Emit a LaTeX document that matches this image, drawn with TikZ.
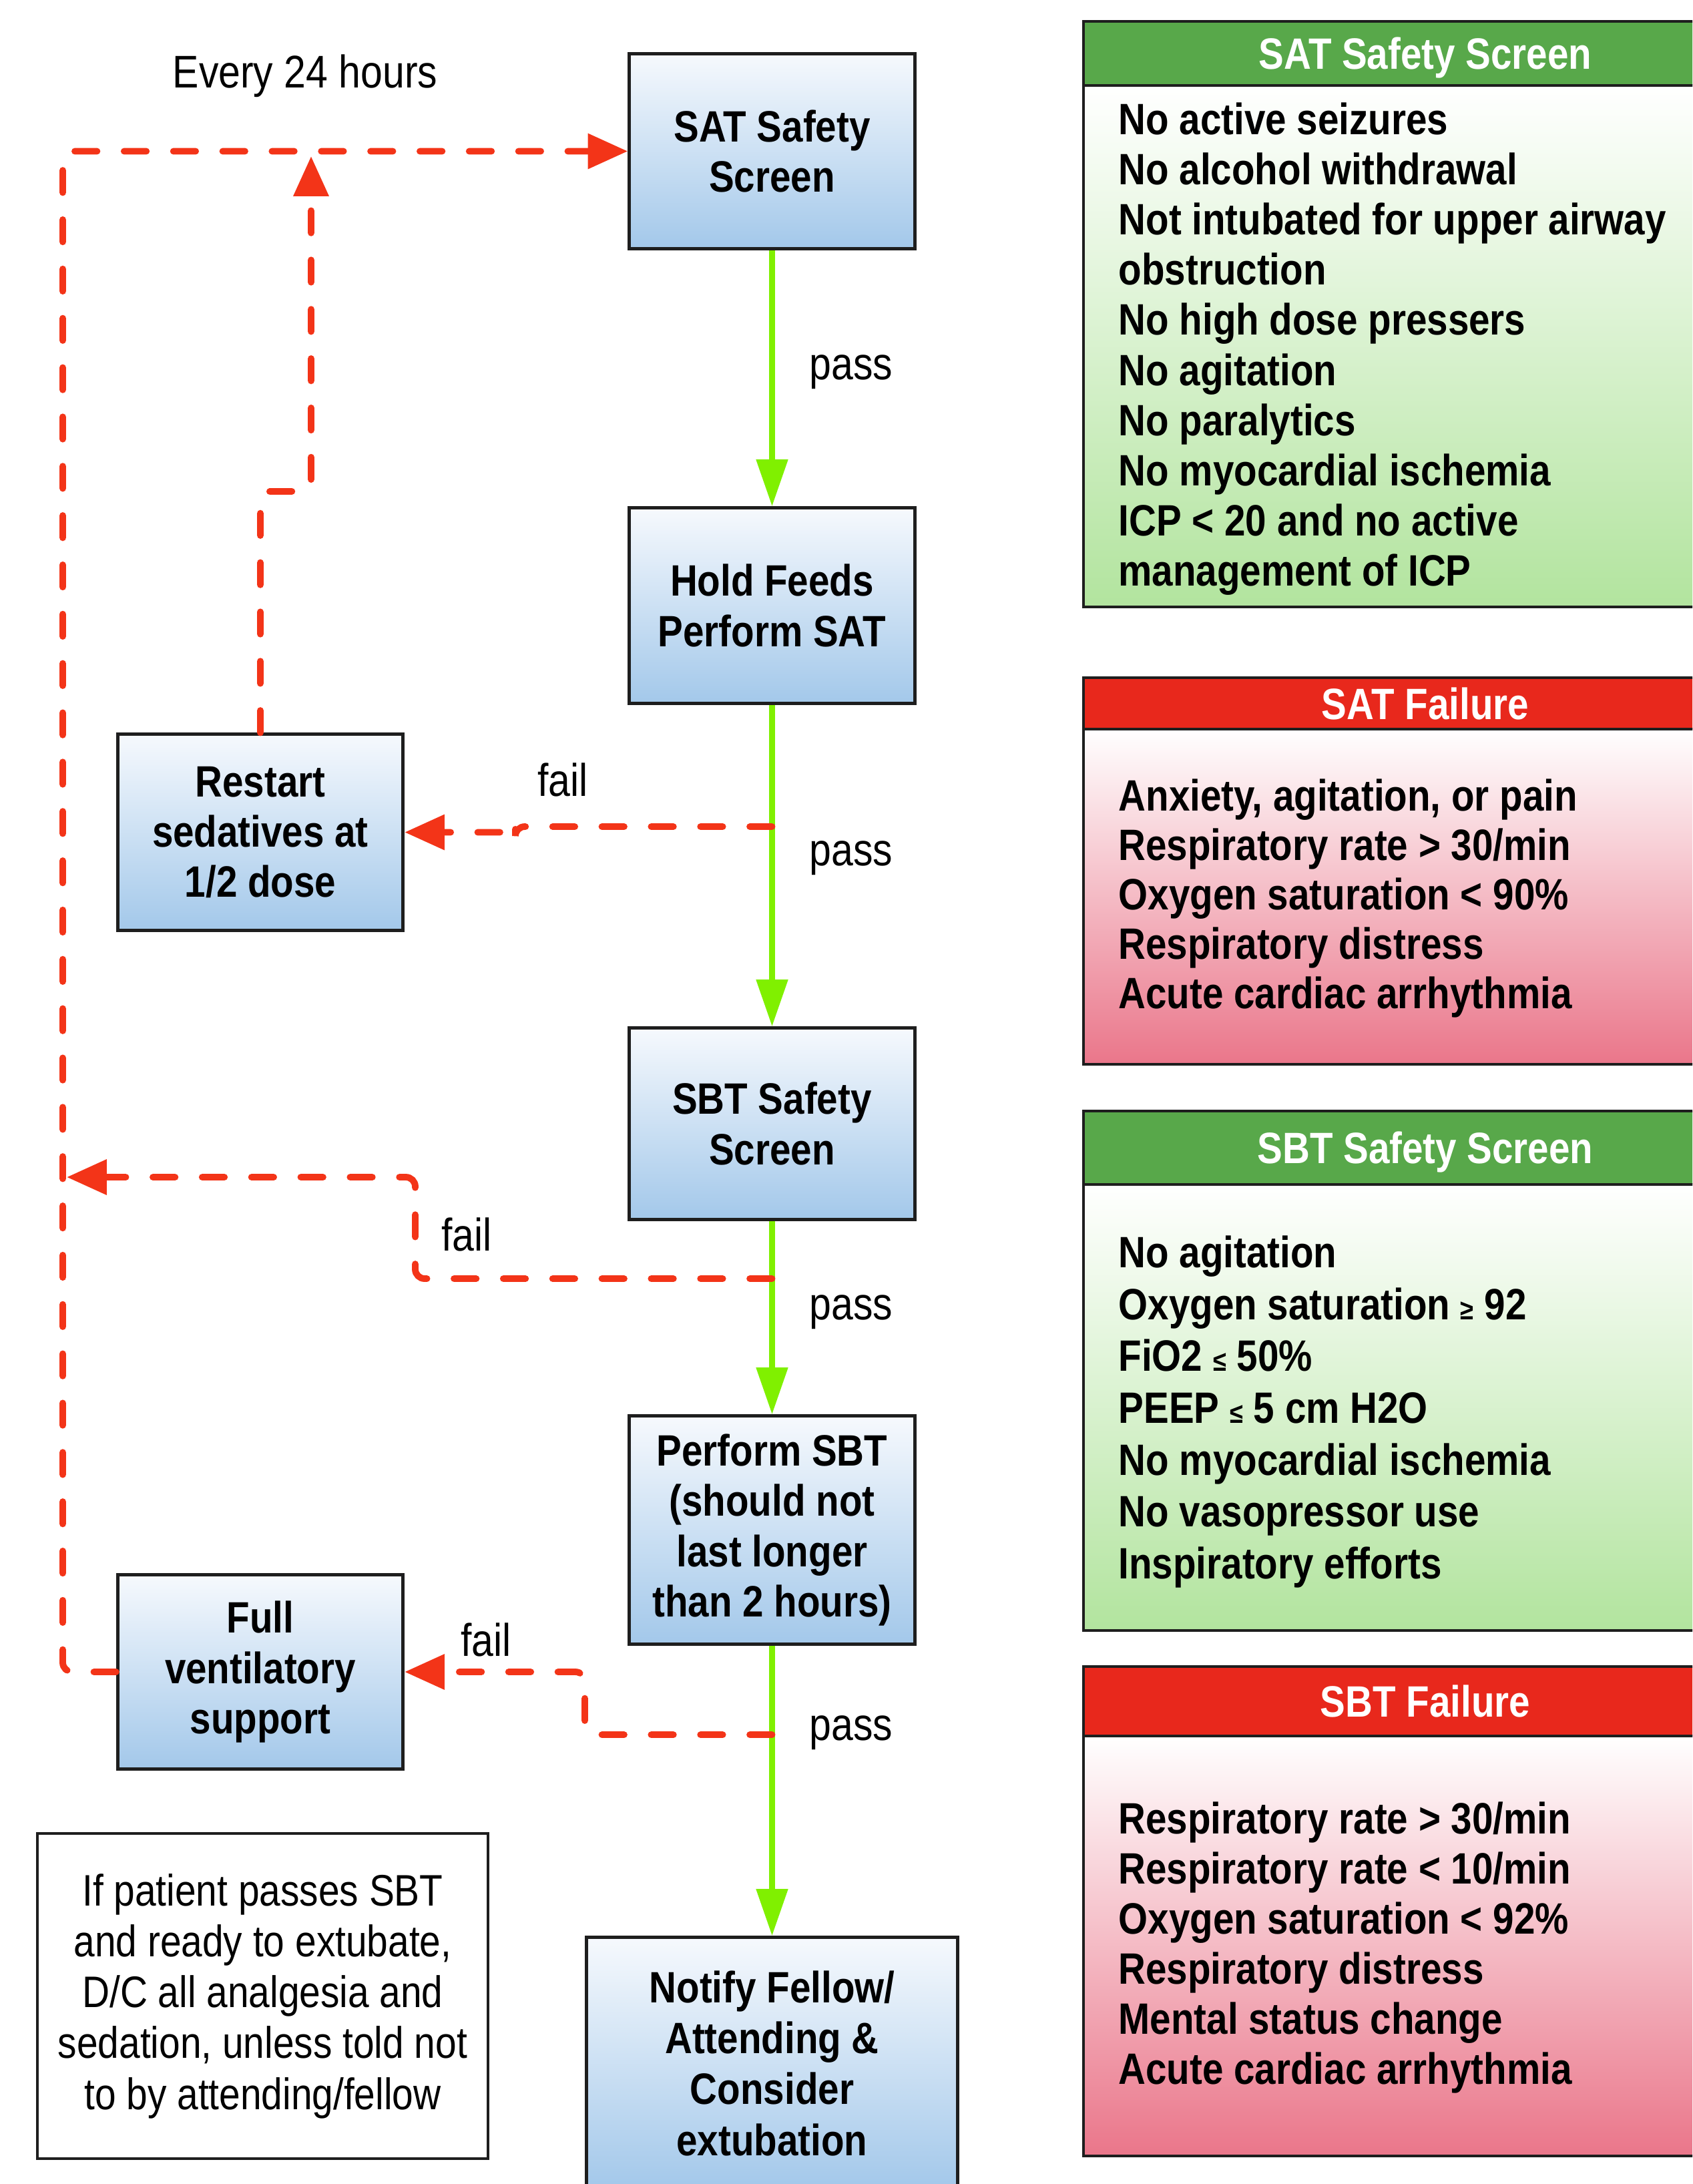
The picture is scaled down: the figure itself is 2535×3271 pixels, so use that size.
\documentclass[tikz,border=0pt]{standalone}
\usepackage{fontspec}
\setmainfont{Liberation Sans}[FakeStretch=0.86]
\usetikzlibrary{arrows.meta}
\definecolor{redline}{RGB}{243,52,24}
\definecolor{greenline}{RGB}{128,240,0}
\definecolor{boxblue}{RGB}{163,200,234}
\definecolor{boxtop}{RGB}{246,249,253}
\definecolor{hdrgreen}{RGB}{88,168,74}
\definecolor{bodygreen}{RGB}{178,228,158}
\definecolor{hdrred}{RGB}{232,40,28}
\definecolor{bodyred}{RGB}{234,118,138}
\definecolor{edge}{RGB}{30,30,30}
\begin{document}
\begin{tikzpicture}[x=0.01cm,y=-0.01cm,
  flowbox/.style={draw=edge, line width=1.4pt, top color=boxtop, bottom color=boxblue,
    font=\fontsize{18.7}{21.4}\selectfont\bfseries, align=center,
    minimum width=4.27cm, inner sep=0pt},
  notebox/.style={draw=edge, line width=1.2pt, fill=white,
    font=\fontsize{18.8}{21.7}\selectfont, align=center, inner sep=0pt},
  lbl/.style={font=\fontsize{19.5}{22}\selectfont, inner sep=0pt},
  hdr/.style={draw=edge, line width=1.2pt, text=white, text depth=0pt,
    font=\fontsize{18.7}{21.4}\selectfont\bfseries, minimum width=10.24cm, inner sep=0pt},
  body/.style={draw=edge, line width=1.2pt, minimum width=10.24cm, inner sep=0pt},
  items/.style={anchor=north west, align=left, inner sep=0pt,
    font=\fontsize{18.7}{21.37}\selectfont\bfseries},
  passline/.style={draw=greenline, line width=2.6pt,
    -{Triangle[length=20pt,width=13pt]}},
  failline/.style={draw=redline, line width=2.8pt, line cap=round,
    dash pattern=on 9.5pt off 11.5pt, rounded corners=4pt,
    -{Triangle[length=17pt,width=14.5pt]}}
]
\useasboundingbox (0,0) rectangle (2535,3271);
\fill[white] (0,0) rectangle (2535,3271);
\clip (0,0) rectangle (2535,3271);

% ---------- flow boxes ----------
\node[flowbox, minimum height=2.91cm] (sat) at (1156.5,226.5) {SAT Safety\\Screen};
\node[flowbox, minimum height=2.92cm] (hold) at (1156.5,907) {Hold Feeds\\Perform SAT};
\node[flowbox, minimum height=2.86cm] (sbt) at (1156.5,1683) {SBT Safety\\Screen};
\node[flowbox, minimum height=3.41cm] (perf) at (1156.5,2291.5) {Perform SBT\\(should not\\last longer\\than 2 hours)};
\node[flowbox, minimum width=5.55cm, minimum height=3.76cm,
  font=\fontsize{18.7}{21.7}\selectfont\bfseries] (notify) at (1156.5,3090) {Notify Fellow/\\Attending \&\\Consider\\extubation};
\node[flowbox, minimum height=2.93cm] (restart) at (390,1246.5) {Restart\\sedatives at\\1/2 dose};
\node[flowbox, minimum height=2.90cm] (fullvent) at (390,2504) {Full\\ventilatory\\support};
\node[notebox, minimum width=6.75cm, minimum height=4.87cm] (note) at (393.5,2989.5)
  {If patient passes SBT\\and ready to extubate,\\D/C all analgesia and\\sedation, unless told not\\to by attending/fellow};

% ---------- pass connectors ----------
\draw[passline] (sat.south) -- (hold.north);
\draw[passline] (hold.south) -- (sbt.north);
\draw[passline] (sbt.south) -- (perf.north);
\draw[passline] (perf.south) -- (notify.north);

\node[lbl] (p1) at (1275,557) {pass};
\node[lbl] (p2) at (1275,1285) {pass};
\node[lbl] (p3) at (1275,1965) {pass};
\node[lbl] (p4) at (1275,2595) {pass};

% ---------- fail connectors ----------
\coordinate (f1) at (1156.5,1238);
\coordinate (f2) at (1156.5,1915);
\coordinate (f2end) at (100,1763);
\coordinate (f3) at (1156.5,2598);
\coordinate (uptip) at (466,234);

\draw[failline] (f1) -- (772,1238) |- (restart.east);
\draw[failline] (f2) -- (622,1915) -- (622,1763) -- (f2end);
\draw[failline] (f3) -- (876,2598) |- (fullvent.east);
\draw[failline] (fullvent.west) -| (94,226.5) -- (sat.west);
\draw[failline] (restart.north) -- (390,736) -- (466,736) -- (uptip);

\node[lbl] (fl1) at (843,1168) {fail};
\node[lbl] (fl2) at (699,1849) {fail};
\node[lbl] (fl3) at (728,2456) {fail};
\node[lbl] (every) at (457,114) {Every 24 hours};

% ---------- right panels ----------
\node[hdr, fill=hdrgreen, minimum height=0.965cm] (h1) at (2135,80) {SAT Safety Screen};
\node[body, top color=white, bottom color=bodygreen, minimum height=7.81cm] (b1) at (2135,518.5) {};
\node[items] (t1) at (1675,153) {No active seizures\\No alcohol withdrawal\\Not intubated for upper airway\\obstruction\\No high dose pressers\\No agitation\\No paralytics\\No myocardial ischemia\\ICP < 20 and no active\\management of ICP};

\node[hdr, fill=hdrred, minimum height=0.77cm] (h2) at (2135,1053.5) {SAT Failure};
\node[body, top color=white, bottom color=bodyred, minimum height=5.02cm] (b2) at (2135,1343) {};
\node[items, font=\fontsize{18.7}{21.05}\selectfont\bfseries] (t2) at (1675,1166) {Anxiety, agitation, or pain\\Respiratory rate > 30/min\\Oxygen saturation < 90\%\\Respiratory distress\\Acute cardiac arrhythmia};

\node[hdr, fill=hdrgreen, minimum height=1.10cm] (h3) at (2135,1719) {SBT Safety Screen};
\node[body, top color=white, bottom color=bodygreen, minimum height=6.68cm] (b3) at (2135,2108) {};
\node[items, font=\fontsize{18.7}{22.1}\selectfont\bfseries] (t3) at (1675,1850) {No agitation\\Oxygen saturation {\fontsize{12}{12}\selectfont ≥} 92\\FiO2 {\fontsize{12}{12}\selectfont ≤} 50\%\\PEEP {\fontsize{12}{12}\selectfont ≤} 5 cm H2O\\No myocardial ischemia\\No vasopressor use\\Inspiratory efforts};

\node[hdr, fill=hdrred, minimum height=1.04cm] (h4) at (2135,2548) {SBT Failure};
\node[body, top color=white, bottom color=bodyred, minimum height=6.29cm] (b4) at (2135,2914.5) {};
\node[items, font=\fontsize{18.7}{21.34}\selectfont\bfseries] (t4) at (1675,2698) {Respiratory rate > 30/min\\Respiratory rate < 10/min\\Oxygen saturation < 92\%\\Respiratory distress\\Mental status change\\Acute cardiac arrhythmia};
\end{tikzpicture}
\end{document}
